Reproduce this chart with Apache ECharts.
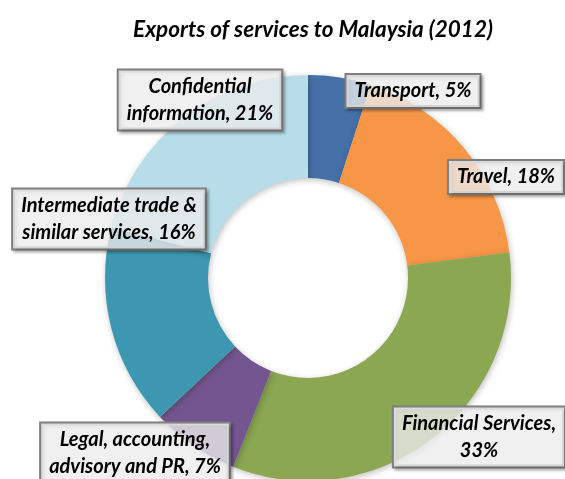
<!DOCTYPE html>
<html><head><meta charset="utf-8">
<script src="https://cdn.jsdelivr.net/npm/echarts@6/dist/echarts.min.js"></script>
<style>html,body{margin:0;padding:0;background:#fff}#c{width:565px;height:479px}</style>
</head><body><div id="c"></div>
<script>
var categories = ['Transport', 'Travel', 'Financial Services', 'Legal, accounting, advisory and PR', 'Intermediate trade & similar services', 'Confidential information'];
var values = [5, 18, 33, 7, 16, 21];
var labelTexts = ['Transport, 5%', 'Travel, 18%', 'Financial Services,\n33%', 'Legal, accounting,\nadvisory and PR, 7%', 'Intermediate trade &\nsimilar services, 16%', 'Confidential\ninformation, 21%'];
var colors = ['#4570a8', '#f79646', '#8ba752', '#73568f', '#3e97b0', '#b7dde8'];
var labelPos = [[413, 91], [506, 177], [479, 437], [135, 453], [109, 219], [200, 100]];

var chart = echarts.init(document.getElementById('c'));
chart.setOption({
  title: {
    text: 'Exports of services to Malaysia (2012)',
    left: 308, top: 13, textAlign: 'center',
    textStyle: {fontFamily: 'Lato', fontStyle: 'italic', fontWeight: 'bold', fontSize: 22.5, color: '#000'}
  },
  series: [{
    type: 'pie',
    center: [308, 278],
    radius: [100, 203],
    startAngle: 90,
    clockwise: true,
    silent: true,
    data: categories.map(function (c, i) {
      return {name: c, value: values[i], itemStyle: {color: colors[i]}};
    }),
    itemStyle: {shadowBlur: 6, shadowColor: 'rgba(0,0,0,0.25)', shadowOffsetX: 1, shadowOffsetY: 2},
    label: {
      show: true,
      position: 'inside',
      overflow: 'none',
      formatter: function (p) { return labelTexts[p.dataIndex]; },
      fontFamily: 'Lato', fontStyle: 'italic', fontWeight: 'bold', fontSize: 20,
      color: '#000', textBorderWidth: 0, lineHeight: 27, align: 'center',
      backgroundColor: 'rgba(255,255,255,0.72)',
      borderColor: '#7f7f7f', borderWidth: 2,
      padding: [3, 8, 2, 8],
      shadowBlur: 3, shadowColor: 'rgba(0,0,0,0.3)', shadowOffsetX: 2, shadowOffsetY: 2
    },
    labelLine: {show: false},
    labelLayout: function (params) {
      var p = labelPos[params.dataIndex];
      return {x: p[0], y: p[1], align: 'center', verticalAlign: 'middle', hideOverlap: false, moveOverlap: false};
    }
  }]
});
</script></body></html>
